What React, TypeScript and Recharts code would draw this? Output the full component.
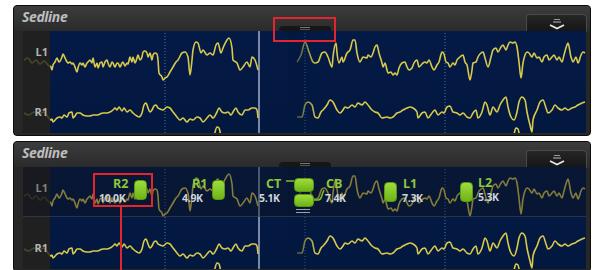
import { Line, LineChart, ReferenceLine, XAxis, YAxis } from 'recharts'

// sweep window in samples, one dotted division per second
const WINDOW = 562
const GRID_SAMPLES = [141, 281, 421]
const CURSOR_SAMPLE = 235

// [sample, amplitude]; NEW = left of the sweep cursor, OLD = right of it
const L1_NEW: [number, number][] = [
  [0, 0], [4, 2], [8, -3], [12, 0], [16, -4], [20, -1], [24, -5], [27, -7], [28, -10], [29, -5],
  [31, -2], [33, 2], [35, -2], [38, 3], [39, 6], [41, 2], [43, -2], [44, -3], [46, -2], [48, -4],
  [49, -3], [51, -7], [53, -12], [54, -8], [56, -3], [58, -5], [59, -3], [61, -7], [63, -3], [64, -2],
  [66, 0], [68, -3], [69, 2], [71, -7], [73, -3], [74, -8], [76, -3], [78, -2], [79, -7], [81, -2],
  [83, 0], [84, -3], [86, -7], [88, -2], [89, -3], [91, -7], [93, -3], [94, -3], [96, -7], [98, -3],
  [99, -2], [101, -6], [103, -3], [104, -4], [106, 3], [108, -2], [109, 3], [111, -3], [113, 2], [114, 5],
  [116, 0], [118, 3], [119, 8], [121, 9], [123, 7], [124, 3], [126, 7], [128, 0], [129, 5], [131, 7],
  [133, 6], [134, 0], [135, -13], [138, -17], [139, -20], [141, -18], [143, -17], [146, -12], [149, -7], [152, -2],
  [154, 0], [158, 7], [161, 8], [164, 3], [166, -15], [168, 0], [169, 10], [172, 18], [174, 17], [177, 7],
  [179, 10], [183, 5], [186, 7], [189, 5], [192, 15], [194, 17], [197, 7], [199, 12], [203, 20], [205, 22],
  [208, 12], [209, 0], [213, -3], [216, -10], [219, -7], [223, -2], [226, -7], [228, 3], [231, 0], [234, -10],
]
const L1_OLD: [number, number][] = [
  [273, -2], [277, 5], [281, 18], [285, 8], [289, -2], [291, -3], [294, -2], [298, 7], [301, 8], [304, 3],
  [308, -7], [309, 3], [312, 17], [313, 7], [315, -3], [318, 3], [319, -2], [323, 7], [326, 10], [329, 20],
  [331, 20], [333, 7], [336, -2], [339, 3], [343, 2], [344, 5], [347, 3], [349, 7], [351, 13], [353, 15],
  [355, 7], [358, -3], [359, -7], [361, -3], [363, -10], [364, -13], [367, -12], [369, -15], [371, -13], [373, -15],
  [375, -8], [378, -3], [381, -2], [383, -7], [385, -10], [388, -8], [390, -3], [393, 0], [395, -7], [399, -3],
  [401, -2], [403, -3], [405, 0], [408, -7], [410, -10], [413, -5], [415, -2], [418, 8], [420, 6], [422, -2],
  [424, -3], [426, -7], [429, -3], [431, -5], [433, 0], [436, 3], [439, 5], [441, -2], [443, -5], [446, -20],
  [448, -10], [449, -3], [452, -2], [454, 3], [457, 7], [459, 8], [461, 2], [464, -7], [467, 3], [469, 10],
  [472, 12], [474, 8], [477, 13], [479, 15], [482, 10], [484, 15], [486, 18], [489, 17], [491, 18], [493, 13],
  [495, -2], [497, -18], [499, -3], [501, 5], [503, 8], [505, 7], [508, 3], [510, 7], [513, 2], [515, 3],
  [518, -2], [520, 3], [523, 5], [525, 0], [528, 3], [530, 5], [533, 0], [535, 3], [538, -2], [540, 5],
  [543, 15], [544, 17], [547, 3], [549, -2], [552, 3], [554, -3], [557, 5], [559, 8], [561, 7],
]
const R1_NEW: [number, number][] = [
  [0, 2], [5, 0], [10, 3], [15, 1], [20, 3], [24, -2], [27, -5], [28, -4], [29, -7], [33, -3],
  [36, -2], [38, -3], [40, 0], [43, -2], [45, 2], [48, 3], [49, -3], [51, -1], [53, 2], [56, 2],
  [59, 0], [63, -1], [66, -1], [69, 0], [73, 0], [76, 1], [79, 2], [83, 2], [86, 3], [89, 5],
  [91, 7], [93, 5], [95, 8], [98, 4], [100, 7], [103, 3], [106, 5], [109, 2], [113, -1], [115, -2],
  [118, 2], [120, 10], [122, 12], [124, 7], [126, 3], [128, 5], [130, 9], [132, 10], [134, 7], [136, 6],
  [139, 5], [143, 8], [146, 7], [149, 3], [153, -2], [156, -5], [159, -3], [163, -7], [166, -4], [169, -5],
  [173, -2], [176, -3], [179, -7], [183, -3], [186, 0], [189, -3], [193, 3], [195, 7], [198, 3], [201, 2],
  [204, 3], [207, 0], [209, 3], [212, 7], [214, 3], [218, 0], [221, 5], [224, 5], [228, 7], [231, 7],
  [233, 5], [234, -3],
]
const R1_OLD: [number, number][] = [
  [273, -2], [278, -2], [281, 10], [284, 13], [288, 10], [291, -2], [294, -3], [297, 3], [299, 5], [303, 10],
  [306, 15], [309, 13], [313, 5], [316, 2], [319, 5], [321, 8], [324, 7], [328, 10], [331, 8], [334, 12],
  [338, 10], [341, 13], [344, 10], [348, 5], [351, 3], [354, 2], [358, -3], [363, -2], [366, -3], [369, -2],
  [373, 2], [376, 3], [379, 5], [383, 7], [386, 8], [389, 7], [393, 3], [394, -3], [398, 2], [401, 3],
  [404, -3], [408, 2], [411, 5], [414, 0], [418, 3], [420, 2], [423, 8], [426, 9], [429, 3], [433, 2],
  [436, 0], [439, 2], [443, -2], [446, -3], [449, 2], [452, 5], [454, -3], [458, 3], [461, 13], [463, 10],
  [466, 0], [469, 8], [473, 3], [476, 10], [479, 15], [482, 18], [484, 8], [487, -2], [490, -5], [493, 3],
  [495, 13], [498, 18], [501, 15], [503, 3], [506, -10], [508, -17], [509, -5], [513, 5], [516, 13], [519, 15],
  [522, 7], [524, 2], [528, 5], [531, 10], [534, 7], [538, 5], [541, 7], [544, 5], [548, 7], [551, 8],
  [554, 10], [558, 12], [561, 13],
]
// next channel down, only its peaks reach into view
const L2_NEW: [number, number][] = [[186, 4], [190, 14], [193, 23], [195, 22], [197, 14], [200, 6]]
const L2_OLD: [number, number][] = [[486, 4], [490, 16], [492, 22], [494, 21], [496, 12], [499, 4]]

const ELECTRODES = ['R2', 'R1', 'CT', 'CB', 'L1', 'L2']
const IMPEDANCES = ['10.0K', '4.9K', '5.1K', '7.4K', '7.3K', '5.3K']

const TRACE = '#d9c94b'
const NAVY = '#03183f'
const GREEN_TEXT = '#8dc73a'
const RED = '#e3262d'

const pts = (a: [number, number][]) => a.map(([t, v]) => ({ t, v }))

function Traces() {
  const series: [string, [number, number][]][] = [
    ['L1', L1_NEW], ['L1', L1_OLD], ['R1', R1_NEW], ['R1', R1_OLD], ['L2', L2_NEW], ['L2', L2_OLD],
  ]
  return (
    <LineChart width={WINDOW} height={102} margin={{ top: 0, right: 0, bottom: 0, left: 0 }}>
      <XAxis type="number" dataKey="t" domain={[0, WINDOW]} hide allowDataOverflow />
      <YAxis yAxisId="L1" domain={[-73, 29]} hide allowDataOverflow />
      <YAxis yAxisId="R1" domain={[-18, 84]} hide allowDataOverflow />
      <YAxis yAxisId="L2" domain={[17, 119]} hide allowDataOverflow />
      {GRID_SAMPLES.map((g) => (
        <ReferenceLine key={g} x={g} yAxisId="L1" stroke="#5874a0" strokeDasharray="1 2" />
      ))}
      <ReferenceLine x={CURSOR_SAMPLE} yAxisId="L1" stroke="#c9d6ea" strokeWidth={1.2} />
      {series.map(([ch, d], i) => (
        <Line
          key={i}
          data={pts(d)}
          dataKey="v"
          yAxisId={ch}
          type="monotoneX"
          stroke={TRACE}
          strokeWidth={1.6}
          strokeLinejoin="round"
          dot={false}
          activeDot={false}
          isAnimationActive={false}
        />
      ))}
    </LineChart>
  )
}

function Chevron() {
  return (
    <svg width={18} height={12} style={{ position: 'absolute', left: 21, top: 3 }}>
      <line x1={6} y1={1.5} x2={12} y2={1.5} stroke="#999" strokeWidth={1} />
      <line x1={5} y1={4} x2={13} y2={4} stroke="#bbb" strokeWidth={1} />
      <polyline points="2,7 9,10.5 16,7" fill="none" stroke="#e6e6e6" strokeWidth={1.8} />
    </svg>
  )
}

function Panel({ top, markers }: { top: number; markers?: boolean }) {
  const pt = top + 26
  const abs = (s: React.CSSProperties): React.CSSProperties => ({ position: 'absolute', ...s })
  return (
    <>
      <div style={abs({ left: 13, top, width: 578, height: 131, background: '#272727', border: '1px solid #0c0c0c', borderRadius: 4, boxSizing: 'border-box' })} />
      <div style={abs({ left: 14, top: top + 1, width: 576, height: 25, background: 'linear-gradient(#3c3c3c, #2b2b2b)', borderRadius: '3px 3px 0 0' })} />
      <div style={abs({ left: 22, top: top + 2, fontFamily: '"Open Sans", sans-serif', fontStyle: 'italic', fontWeight: 700, fontSize: 14, color: '#bdbdbd', letterSpacing: -0.4 })}>Sedline</div>
      <div style={abs({ left: 526, top: top + 9, width: 59, height: 17, background: 'linear-gradient(#262626, #151515)', border: '1px solid #4a4a4a', borderBottom: 'none', borderRadius: '4px 4px 0 0' })}>
        <Chevron />
      </div>
      <div style={abs({ left: 279, top: pt - 5, width: 52, height: 5, background: '#161616', borderRadius: '4px 4px 0 0' })}>
        <div style={abs({ left: 21, top: 1, width: 10, height: 1, background: '#777' })} />
        <div style={abs({ left: 21, top: 3, width: 10, height: 1, background: '#555' })} />
      </div>
      <div style={abs({ left: 23, top: pt, width: 27, height: 102, background: '#202020' })} />
      <div style={abs({ left: 50, top: pt, width: 536, height: 102, background: `linear-gradient(#041a46, ${NAVY})` })} />
      <div style={abs({ left: 24, top: pt, width: WINDOW, height: 102 })}>
        <Traces />
      </div>
      <div style={abs({ left: 23, top: pt, width: 27, height: 102, background: 'rgba(32,32,32,0.78)' })} />
      <div style={abs({ left: 288, top: pt, width: 30, height: 102, background: `linear-gradient(to right, rgba(3,24,63,0.9), rgba(3,24,63,0))` })} />
      {markers && (
        <div style={abs({ left: 23, top: pt, width: 563, height: 49, background: 'rgba(14,18,30,0.42)', borderBottom: '1px solid rgba(70,80,100,0.5)' })} />
      )}
      <div style={abs({ left: 30, width: 18, textAlign: 'right', top: pt + 13, fontFamily: '"Open Sans", sans-serif', fontWeight: 700, fontSize: 11, color: markers ? '#808080' : '#b3b3b3' })}>L1</div>
      <div style={abs({ left: 30, width: 18, textAlign: 'right', top: pt + 73, fontFamily: '"Open Sans", sans-serif', fontWeight: 700, fontSize: 11, color: '#b3b3b3' })}>R1</div>
    </>
  )
}

// page positions of the impedance badges (bottom panel)
const BADGE_LAYOUT = [
  { name: [113, 177], val: [99, 193], pill: [134, 180, 13, 20] },
  { name: [192, 177], val: [182, 193], pill: [212, 180, 13, 20] },
  { name: [266, 177], val: [259, 193], pill: [294, 178, 20, 14] },
  { name: [326, 177], val: [325, 193], pill: [294, 194, 20, 13] },
  { name: [403, 177], val: [402, 193], pill: [384, 182, 13, 20] },
  { name: [478, 176], val: [478, 192], pill: [460, 182, 13, 20] },
]

function Badges() {
  const txt = { position: 'absolute' as const, fontFamily: '"Open Sans", sans-serif', fontWeight: 700, whiteSpace: 'nowrap' as const }
  return (
    <>
      <svg width={594} height={270} style={{ position: 'absolute', left: 0, top: 0 }}>
        <line x1={286} y1={181} x2={294} y2={181} stroke="#7cc21f" strokeWidth={1.5} />
        <path d="M314,200 L318,200 Q321,200 322,195 L324,190" fill="none" stroke="#7cc21f" strokeWidth={1.5} />
        <line x1={296} y1={209.5} x2={310} y2={209.5} stroke="#9aa3ad" strokeWidth={1} />
        <line x1={296} y1={212.5} x2={310} y2={212.5} stroke="#9aa3ad" strokeWidth={1} />
      </svg>
      {ELECTRODES.map((e, i) => {
        const L = BADGE_LAYOUT[i]
        const [px, py, pw, ph] = L.pill
        return (
          <div key={e}>
            <div style={{ position: 'absolute', left: px, top: py, width: pw, height: ph, borderRadius: 4, background: 'linear-gradient(#9ddc3e, #6fb316)', border: '1px solid #5a9a10', boxSizing: 'border-box' }} />
            <div style={{ ...txt, left: L.name[0], top: L.name[1], fontSize: 12.5, lineHeight: '13px', color: GREEN_TEXT }}>{e}</div>
            <div style={{ ...txt, left: L.val[0], top: L.val[1], fontSize: 10.5, lineHeight: '11px', color: '#cdd4dc', letterSpacing: -0.3 }}>{IMPEDANCES[i]}</div>
          </div>
        )
      })}
    </>
  )
}

export default function App() {
  return (
    <div style={{ position: 'absolute', left: 0, top: 0, width: 594, height: 270, background: '#fff', overflow: 'hidden' }}>
      <Panel top={5} />
      <Panel top={141} markers />
      <Badges />
      <div style={{ position: 'absolute', left: 273, top: 17, width: 63, height: 25, border: `2px solid ${RED}`, boxSizing: 'border-box' }} />
      <div style={{ position: 'absolute', left: 93, top: 173, width: 60, height: 34, border: `2px solid ${RED}`, boxSizing: 'border-box' }} />
      <div style={{ position: 'absolute', left: 120, top: 207, width: 2, height: 63, background: RED }} />
    </div>
  )
}
